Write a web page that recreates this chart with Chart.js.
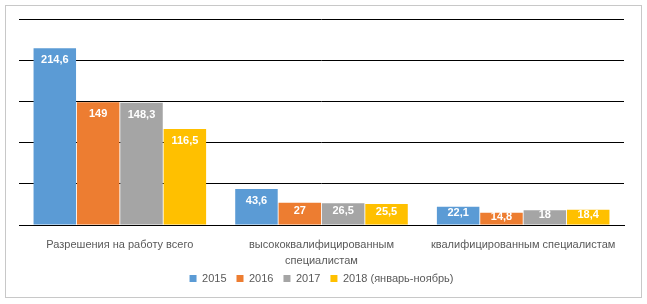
<!DOCTYPE html>
<html>
<head>
<meta charset="utf-8">
<script src="https://cdn.jsdelivr.net/npm/chart.js@4"></script>
<style>
  html, body { margin: 0; padding: 0; background: #fff; }
  #wrap { width: 647px; height: 304px; position: relative; }
</style>
</head>
<body>
<div id="wrap"><canvas id="permitsChart" width="647" height="304"></canvas></div>
<script>
// категории и ряды
const categories = [
    'Разрешения на работу всего',
    ['высококвалифицированным', 'специалистам'],
    'квалифицированным специалистам'
];
const seriesNames = ['2015', '2016', '2017', '2018 (январь-ноябрь)'];
const values2015 = [214.6, 43.6, 22.1];
const values2016 = [149, 27, 14.8];
const values2017 = [148.3, 26.5, 18];
const values2018 = [116.5, 25.5, 18.4];
const colors = ['#5B9BD5', '#ED7D31', '#A5A5A5', '#FFC000'];

const allValues = [values2015, values2016, values2017, values2018];
const datasets = seriesNames.map((name, i) => ({
    label: name,
    data: allValues[i],
    backgroundColor: colors[i],
    borderWidth: 0,
    barPercentage: 0.98,
    categoryPercentage: 0.86
}));

// рамка вокруг диаграммы
const framePlugin = {
    id: 'frame',
    beforeDraw(chart) {
        const ctx = chart.ctx;
        ctx.save();
        ctx.fillStyle = '#fff';
        ctx.fillRect(0, 0, chart.width, chart.height);
        ctx.strokeStyle = '#c8c8c8';
        ctx.lineWidth = 1;
        ctx.strokeRect(5.5, 5.5, 636, 292);
        ctx.restore();
    }
};

// подписи значений внутри столбцов
const valueLabels = {
    id: 'valueLabels',
    afterDatasetsDraw(chart) {
        const ctx = chart.ctx;
        ctx.save();
        ctx.font = 'bold 11px "Liberation Sans", Arial, sans-serif';
        ctx.fillStyle = '#fff';
        ctx.textAlign = 'center';
        ctx.textBaseline = 'middle';
        chart.data.datasets.forEach((ds, i) => {
            chart.getDatasetMeta(i).data.forEach((bar, j) => {
                const h = bar.base - bar.y;
                const off = Math.max(4, Math.min(12, h / 2 - 2.5));
                const txt = String(ds.data[j]).replace('.', ',');
                ctx.fillText(txt, bar.x, bar.y + off);
            });
        });
        ctx.restore();
    }
};

const ctx = document.getElementById('permitsChart').getContext('2d');
new Chart(ctx, {
    type: 'bar',
    data: { labels: categories, datasets: datasets },
    plugins: [framePlugin, valueLabels],
    options: {
        responsive: false,
        animation: false,
        layout: { padding: { left: 19, right: 23, top: 19, bottom: 10 } },
        plugins: {
            tooltip: { enabled: false },
            legend: {
                position: 'bottom',
                labels: {
                    boxWidth: 7,
                    boxHeight: 7,
                    padding: 10,
                    color: '#595959',
                    font: { family: '"Liberation Sans", Arial, sans-serif', size: 11 }
                }
            }
        },
        scales: {
            x: {
                grid: { display: false },
                border: { color: '#000', width: 1 },
                ticks: {
                    color: '#595959',
                    padding: 4,
                    maxRotation: 0,
                    autoSkip: false,
                    font: { family: '"Liberation Sans", Arial, sans-serif', size: 11, lineHeight: 1.45 }
                },
                afterFit(scale) {
                    scale.height = 38;
                    // вторая строка подписи не должна обрезаться
                    scale._computeLabelArea = () => undefined;
                }
            },
            y: {
                min: 0,
                max: 250,
                ticks: { display: false, stepSize: 50 },
                border: { display: false },
                grid: { color: '#000', lineWidth: 1, drawTicks: false }
            }
        }
    }
});
</script>
</body>
</html>
